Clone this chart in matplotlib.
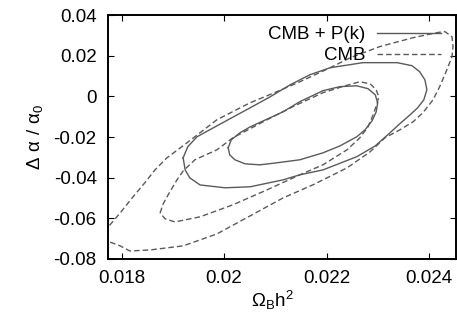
import matplotlib
matplotlib.use("Agg")
import matplotlib.pyplot as plt

plt.rcParams['font.family'] = ['Liberation Sans', 'DejaVu Sans']
plt.rcParams['mathtext.default'] = 'regular'

# CMB only, outer (2 sigma) contour
cmb2_x = [0.01748, 0.01777, 0.01797, 0.01816, 0.01855, 0.01920, 0.01986, 0.02051,
          0.02115, 0.02173, 0.02240, 0.02285, 0.02314, 0.02343, 0.02369, 0.02388,
          0.02408, 0.02421, 0.02435, 0.02445, 0.02447, 0.02445, 0.02431, 0.02416,
          0.02369, 0.02304, 0.02246, 0.02207, 0.02148, 0.02103, 0.02051, 0.01986,
          0.01920, 0.01888, 0.01865, 0.01845, 0.01822, 0.01797, 0.01777, 0.01748]
cmb2_y = [-0.0677, -0.0717, -0.0736, -0.0761, -0.0756, -0.0736, -0.0677, -0.0588,
          -0.0500, -0.0436, -0.0352, -0.0273, -0.0204, -0.0165, -0.0125, -0.0081,
          -0.0017, 0.0048, 0.0131, 0.0195, 0.0245, 0.0294, 0.0319, 0.0314,
          0.0289, 0.0245, 0.0190, 0.0141, 0.0072, 0.0023, -0.0031, -0.0115,
          -0.0243, -0.0303, -0.0362, -0.0426, -0.0495, -0.0574, -0.0633, -0.0677]

# CMB only, inner (1 sigma) contour
cmb1_x = [0.01875, 0.01881, 0.01894, 0.01908, 0.01920, 0.01943, 0.01986, 0.02017,
          0.02084, 0.02138, 0.02193, 0.02236, 0.02265, 0.02285, 0.02297, 0.02302,
          0.02298, 0.02291, 0.02281, 0.02265, 0.02240, 0.02193, 0.02148, 0.02084,
          0.02017, 0.01953, 0.01904, 0.01885, 0.01875]
cmb1_y = [-0.0574, -0.0529, -0.0470, -0.0411, -0.0367, -0.0312, -0.0263, -0.0204,
          -0.0115, -0.0046, 0.0018, 0.0052, 0.0072, 0.0062, 0.0033, -0.0002,
          -0.0041, -0.0091, -0.0150, -0.0204, -0.0263, -0.0337, -0.0386, -0.0460,
          -0.0534, -0.0593, -0.0618, -0.0603, -0.0574]

# CMB + P(k), outer contour
cmbp2_x = [0.01920, 0.01929, 0.01947, 0.01986, 0.02051, 0.02090, 0.02129, 0.02168,
           0.02207, 0.02271, 0.02338, 0.02367, 0.02382, 0.02392, 0.02396, 0.02390,
           0.02378, 0.02363, 0.02343, 0.02324, 0.02295, 0.02259, 0.02193, 0.02148,
           0.02115, 0.02051, 0.02002, 0.01953, 0.01933, 0.01924, 0.01920]
cmbp2_y = [-0.0303, -0.0248, -0.0199, -0.0145, -0.0056, -0.0002, 0.0057, 0.0107,
           0.0141, 0.0166, 0.0166, 0.0151, 0.0121, 0.0082, 0.0033, -0.0017,
           -0.0056, -0.0091, -0.0135, -0.0179, -0.0244, -0.0297, -0.0362, -0.0386,
           -0.0411, -0.0445, -0.0450, -0.0436, -0.0401, -0.0362, -0.0303]

# CMB + P(k), inner contour
cmbp1_x = [0.02008, 0.02014, 0.02031, 0.02051, 0.02115, 0.02148, 0.02193, 0.02226,
           0.02259, 0.02281, 0.02295, 0.02300, 0.02297, 0.02289, 0.02275, 0.02259,
           0.02226, 0.02193, 0.02148, 0.02103, 0.02070, 0.02041, 0.02021, 0.02011,
           0.02008]
cmbp1_y = [-0.0253, -0.0214, -0.0179, -0.0150, -0.0076, -0.0026, 0.0028, 0.0048,
           0.0052, 0.0038, 0.0008, -0.0031, -0.0076, -0.0120, -0.0165, -0.0199,
           -0.0244, -0.0278, -0.0312, -0.0327, -0.0337, -0.0332, -0.0312, -0.0288,
           -0.0253]

xticks = [0.018, 0.020, 0.022, 0.024]
xtick_labels = ['0.018', '0.02', '0.022', '0.024']
yticks = [-0.08, -0.06, -0.04, -0.02, 0.0, 0.02, 0.04]
ytick_labels = ['-0.08', '-0.06', '-0.04', '-0.02', '0', '0.02', '0.04']

fig = plt.figure(figsize=(4.57, 3.22), dpi=100)
ax = fig.add_axes([0.236, 0.196, 0.762, 0.757])

col = '#5a5a5a'
dash = (0, (4, 2.2))
ax.plot(cmbp2_x, cmbp2_y, color=col, lw=1.0, label='CMB + P(k)')
ax.plot(cmbp1_x, cmbp1_y, color=col, lw=1.0)
ax.plot(cmb2_x, cmb2_y, color=col, lw=1.0, ls=dash, label='CMB')
ax.plot(cmb1_x, cmb1_y, color=col, lw=1.0, ls=dash)

ax.set_xlim(0.01773, 0.02453)
ax.set_ylim(-0.08, 0.04)
ax.set_xticks(xticks)
ax.set_xticklabels(xtick_labels)
ax.set_yticks(yticks)
ax.set_yticklabels(ytick_labels)
ax.tick_params(direction='in', length=4, width=0.8, top=True, right=True,
               labelsize=13.5, pad=8)
for s in ax.spines.values():
    s.set_linewidth(1.4)

ax.set_xlabel(r'$\Omega_B h^2$', fontsize=13.5, labelpad=5)
ax.xaxis.set_label_coords(0.472, -0.125)
ax.set_ylabel(r'$\Delta\ \alpha\ /\ \alpha_0$', fontsize=13.5, labelpad=6)

leg = ax.legend(loc='upper right', bbox_to_anchor=(0.957, 0.955), frameon=False,
                markerfirst=False, fontsize=13.5, handlelength=3.4,
                handletextpad=0.65, borderpad=0, borderaxespad=0,
                labelspacing=0.2)

fig.savefig('out.png', dpi=100)
